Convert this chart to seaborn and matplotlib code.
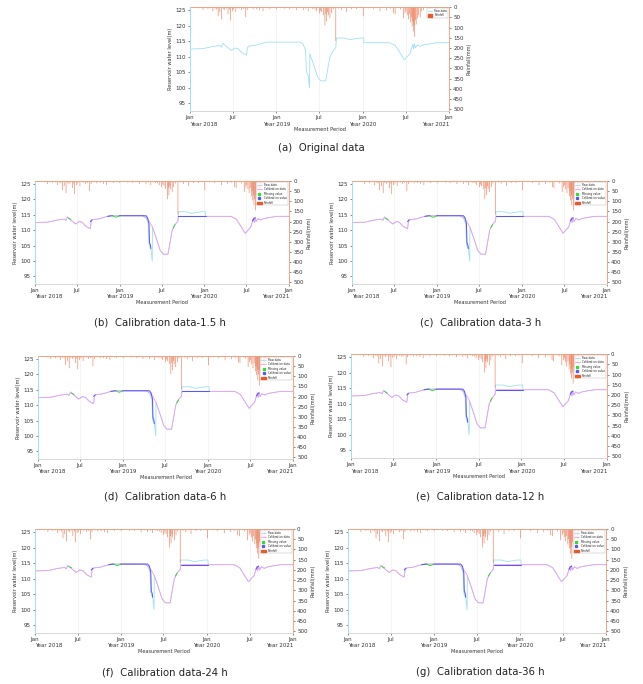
import numpy as np
import pandas as pd
import matplotlib as mpl
mpl.use("Agg")
import matplotlib.pyplot as plt
import matplotlib.transforms as mtrans
from matplotlib.lines import Line2D
from matplotlib.patches import Patch
import seaborn as sns


# ============================================================
# Data
# ============================================================
RAW_DATES = [
    "2018-01-01", "2018-02-25", "2018-04-08", "2018-05-07", "2018-05-14",
    "2018-05-21", "2018-06-01", "2018-06-25", "2018-07-10", "2018-07-23",
    "2018-08-10", "2018-08-28", "2018-09-01", "2018-09-10", "2018-10-01",
    "2018-11-01", "2018-11-21", "2019-04-11", "2019-04-25", "2019-05-05",
    "2019-05-09", "2019-05-16", "2019-05-22", "2019-05-23", "2019-06-10",
    "2019-06-25", "2019-07-09", "2019-07-29", "2019-08-16", "2019-08-30",
    "2019-09-10", "2019-09-12", "2019-10-15", "2019-11-09", "2019-12-21",
    "2020-01-06", "2020-01-07", "2020-04-26", "2020-05-20", "2020-06-26",
    "2020-07-20", "2020-07-28", "2020-08-01", "2020-08-04", "2020-08-08",
    "2020-08-12", "2020-08-20", "2020-09-01", "2020-09-15", "2020-10-15",
    "2020-11-10", "2021-01-01",
]
RAW_LEVEL = [
    112.5, 112.6, 113.3, 113.6, 113.2,
    114.3, 113.5, 112.0, 112.8, 112.6,
    111.2, 110.5, 113.0, 113.5, 113.6,
    114.3, 114.7, 114.7, 114.0, 112.0,
    105.0, 104.0, 100.0, 111.0, 107.0,
    103.5, 102.2, 102.2, 110.0, 112.0,
    113.0, 116.0, 116.0, 115.5, 116.0,
    116.0, 114.5, 114.5, 113.5, 109.0,
    111.0, 113.0, 114.0, 112.5, 114.2,
    112.8, 113.8, 113.3, 113.8, 114.2,
    114.5, 114.5,
]

CAL_DATES = [
    "2018-01-01", "2018-02-25", "2018-04-08", "2018-05-07", "2018-05-14",
    "2018-05-21", "2018-06-01", "2018-06-25", "2018-07-10", "2018-07-23",
    "2018-08-10", "2018-08-28", "2018-09-01", "2018-09-10", "2018-10-01",
    "2018-11-01", "2018-11-21", "2019-04-11", "2019-04-25", "2019-05-02",
    "2019-05-12", "2019-05-23", "2019-06-10", "2019-06-25", "2019-07-09",
    "2019-07-29", "2019-08-16", "2019-08-30", "2019-09-10", "2019-09-12",
    "2020-01-07", "2020-04-26", "2020-05-20", "2020-06-26", "2020-07-20",
    "2020-07-28", "2020-08-01", "2020-08-04", "2020-08-08", "2020-08-12",
    "2020-08-20", "2020-09-01", "2020-09-15", "2020-10-15", "2020-11-10",
    "2021-01-01",
]
CAL_LEVEL = [
    112.5, 112.6, 113.3, 113.6, 113.2,
    114.3, 113.5, 112.0, 112.8, 112.6,
    111.2, 110.5, 113.0, 113.5, 113.6,
    114.3, 114.7, 114.7, 114.0, 113.6,
    112.5, 111.0, 107.0, 103.5, 102.2,
    102.2, 110.0, 112.0, 113.0, 114.5,
    114.5, 114.5, 113.5, 109.0, 111.0,
    113.0, 114.0, 112.5, 114.2, 112.8,
    113.8, 113.3, 113.8, 114.2, 114.5,
    114.5,
]

# calibration value segments (blue)
CV_DATES = [
    "2018-08-28", "2018-09-04",
    "2018-11-10", "2018-12-01",
    "2018-12-31", "2019-04-25", "2019-05-02", "2019-05-08", "2019-05-10",
    "2019-05-14", "2019-05-16",
    "2019-09-12", "2020-01-07",
    "2020-07-28", "2020-08-03", "2020-08-08",
]
CV_LEVEL = [
    112.8, 113.4,
    114.5, 114.7,
    114.7, 114.7, 114.0, 112.0, 106.0,
    105.2, 104.0,
    114.5, 114.5,
    113.0, 113.8, 114.0,
]
CV_SEG = [0, 0, 1, 1, 2, 2, 2, 2, 2, 2, 2, 3, 3, 4, 4, 4]

# missing value segments (green)
MV_DATES = [
    "2018-05-25", "2018-06-05",
    "2018-12-01", "2018-12-15", "2018-12-31",
    "2019-08-20", "2019-08-28",
]
MV_LEVEL = [
    113.9, 113.5,
    114.7, 114.2, 114.6,
    110.8, 111.8,
]
MV_SEG = [0, 0, 1, 1, 1, 2, 2]

RAIN_DATES = [
    "2018-01-12", "2018-01-20", "2018-02-10", "2018-02-25", "2018-03-05",
    "2018-03-18", "2018-03-30", "2018-04-08", "2018-04-17", "2018-04-23",
    "2018-04-30", "2018-05-07", "2018-05-15", "2018-05-22", "2018-05-28",
    "2018-06-04", "2018-06-11", "2018-06-17", "2018-06-21", "2018-06-29",
    "2018-07-05", "2018-07-14", "2018-07-20", "2018-07-28", "2018-08-07",
    "2018-08-15", "2018-08-25", "2018-08-31", "2018-09-12", "2018-09-25",
    "2018-10-09", "2018-10-23", "2018-11-06", "2018-11-15", "2018-11-25",
    "2018-12-05", "2018-12-20", "2019-01-02", "2019-01-20", "2019-02-06",
    "2019-02-27", "2019-03-12", "2019-03-28", "2019-04-10", "2019-04-25",
    "2019-05-06", "2019-05-16", "2019-05-28", "2019-06-05", "2019-06-14",
    "2019-06-21", "2019-07-02", "2019-07-07", "2019-07-12", "2019-07-19",
    "2019-07-26", "2019-07-30", "2019-08-02", "2019-08-06", "2019-08-09",
    "2019-08-16", "2019-08-23", "2019-08-30", "2019-09-10", "2019-09-22",
    "2019-10-04", "2019-10-15", "2019-10-26", "2019-11-16", "2019-12-07",
    "2019-12-24", "2020-01-04", "2020-01-25", "2020-02-16", "2020-03-01",
    "2020-03-15", "2020-04-12", "2020-04-28", "2020-05-11", "2020-05-18",
    "2020-06-01", "2020-06-10", "2020-06-22", "2020-06-29", "2020-07-03",
    "2020-07-08", "2020-07-13", "2020-07-18", "2020-07-23", "2020-07-26",
    "2020-07-29", "2020-08-01", "2020-08-03", "2020-08-06", "2020-08-09",
    "2020-08-12", "2020-08-15", "2020-08-20", "2020-08-26", "2020-09-01",
    "2020-09-07", "2020-09-15", "2020-10-13", "2020-11-10", "2020-11-25",
    "2020-12-05",
]
RAIN_MM = [
    4, 5, 6, 15, 5,
    10, 6, 20, 8, 12,
    45, 25, 60, 10, 15,
    8, 35, 12, 65, 20,
    12, 25, 6, 8, 15,
    10, 50, 15, 6, 12,
    10, 15, 20, 5, 6,
    10, 4, 10, 5, 8,
    10, 5, 15, 6, 15,
    8, 20, 6, 10, 12,
    20, 30, 18, 25, 40,
    90, 35, 70, 25, 40,
    55, 30, 12, 165, 8,
    15, 6, 25, 10, 10,
    5, 45, 6, 10, 5,
    20, 15, 8, 30, 35,
    6, 12, 55, 30, 20,
    40, 60, 35, 75, 50,
    95, 70, 120, 90, 145,
    65, 85, 55, 40, 50,
    20, 15, 10, 8, 4,
    5,
]

TICK_DATES = ["2018-01-01", "2018-07-01", "2019-01-01", "2019-07-01",
              "2020-01-01", "2020-07-01", "2021-01-01"]
TICK_LABELS = ["Jan", "Jul", "Jan", "Jul", "Jan", "Jul", "Jan"]
YEAR_DATES = ["2018-01-01", "2019-01-01", "2020-01-01", "2021-01-01"]
YEAR_LABELS = ["Year 2018", "Year 2019", "Year 2020", "Year 2021"]

CAPTIONS = [
    "(a)  Original data",
    "(b)  Calibration data-1.5 h",
    "(c)  Calibration data-3 h",
    "(d)  Calibration data-6 h",
    "(e)  Calibration data-12 h",
    "(f)  Calibration data-24 h",
    "(g)  Calibration data-36 h",
]


# ============================================================
# Style settings
# ============================================================
RAW_COLOR = "#9fe0f4"
CAL_COLOR = "#f29cf2"
MV_COLOR = "#33dd33"
CV_COLOR = "#5858f2"
RAIN_COLOR = "#e85a2c"
TEXT_COLOR = "#333333"

TICK_FS = 4.0
LABEL_FS = 3.6
LEGEND_FS = 2.0
CAPTION_FS = 7.3

# [left, bottom, width, height] in figure fraction + caption position
PANELS = [
    ([0.2955, 0.8377, 0.4028, 0.1520], (0.500, 0.7836), False),
    ([0.0544, 0.5848, 0.3950, 0.1506], (0.249, 0.5278), True),
    ([0.5474, 0.5848, 0.3966, 0.1506], (0.747, 0.5278), True),
    ([0.0591, 0.3289, 0.3966, 0.1506], (0.257, 0.2734), True),
    ([0.5459, 0.3304, 0.3980, 0.1520], (0.747, 0.2734), True),
    ([0.0544, 0.0746, 0.4012, 0.1520], (0.257, 0.0175), True),
    ([0.5412, 0.0746, 0.4012, 0.1520], (0.747, 0.0175), True),
]


# ============================================================
# Tables
# ============================================================
raw_df = pd.DataFrame({"date": pd.to_datetime(RAW_DATES), "level": RAW_LEVEL})
cal_df = pd.DataFrame({"date": pd.to_datetime(CAL_DATES), "level": CAL_LEVEL})
cv_df = pd.DataFrame({"date": pd.to_datetime(CV_DATES), "level": CV_LEVEL, "seg": CV_SEG})
mv_df = pd.DataFrame({"date": pd.to_datetime(MV_DATES), "level": MV_LEVEL, "seg": MV_SEG})
rain_df = pd.DataFrame({"date": pd.to_datetime(RAIN_DATES), "mm": RAIN_MM})


# ============================================================
# Plot
# ============================================================
sns.set_theme(style="white")
plt.rcParams["font.family"] = ["DejaVu Sans"]

fig = plt.figure(figsize=(6.43, 6.84), dpi=100)


def draw_panel(rect, calibrated):
    ax = fig.add_axes(rect)
    ax.grid(axis="x", color="#ececec", lw=0.4)
    ax.set_axisbelow(True)

    sns.lineplot(data=raw_df, x="date", y="level", ax=ax, color=RAW_COLOR,
                 lw=0.6, estimator=None, sort=False, legend=False)
    if calibrated:
        sns.lineplot(data=cal_df, x="date", y="level", ax=ax, color=CAL_COLOR,
                     lw=0.6, estimator=None, sort=False, legend=False)
        sns.lineplot(data=mv_df, x="date", y="level", units="seg", ax=ax,
                     color=MV_COLOR, lw=0.7, estimator=None, sort=False, legend=False)
        sns.lineplot(data=cv_df, x="date", y="level", units="seg", ax=ax,
                     color=CV_COLOR, lw=0.75, estimator=None, sort=False, legend=False)

    ax.set_xlim(pd.Timestamp("2018-01-01"), pd.Timestamp("2021-01-01"))
    ax.set_ylim(92.5, 126)
    ax.set_yticks([95, 100, 105, 110, 115, 120, 125])
    ax.set_xticks(pd.to_datetime(TICK_DATES))
    ax.set_xticklabels(TICK_LABELS)
    ax.tick_params(axis="both", labelsize=TICK_FS, colors=TEXT_COLOR,
                   length=1.5, width=0.4, pad=1.5, bottom=True, left=True)
    ax.set_xlabel("")
    ax.set_ylabel("Reservoir water level(m)", fontsize=LABEL_FS,
                  color=TEXT_COLOR, labelpad=2)

    trans = mtrans.blended_transform_factory(ax.transData, ax.transAxes)
    aligns = ["left", "center", "center", "right"]
    for d, lab, ha in zip(pd.to_datetime(YEAR_DATES), YEAR_LABELS, aligns):
        ax.text(d, -0.125, lab, transform=trans, ha=ha, va="center",
                fontsize=TICK_FS, color=TEXT_COLOR)
    ax.text(0.5, -0.175, "Measurement Period", transform=ax.transAxes,
            ha="center", va="center", fontsize=LABEL_FS, color=TEXT_COLOR)

    ax2 = ax.twinx()
    ax2.bar(rain_df["date"], rain_df["mm"], width=2.4, color=RAIN_COLOR,
            alpha=0.85, lw=0, snap=False)
    ax2.set_ylim(508, 0)
    ax2.set_yticks(np.arange(0, 501, 50))
    ax2.tick_params(axis="y", labelsize=TICK_FS, colors=TEXT_COLOR,
                    length=1.5, width=0.4, pad=1.5, right=True)
    ax2.set_ylabel("Rainfall(mm)", fontsize=LABEL_FS, color=TEXT_COLOR,
                   labelpad=2)
    ax2.grid(False)

    for a in (ax, ax2):
        a.spines["left"].set_color(RAW_COLOR)
        a.spines["right"].set_color("#f3a585")
        a.spines["top"].set_color("#f3a585")
        a.spines["bottom"].set_color("#d8d8d8")
        for s in a.spines.values():
            s.set_linewidth(0.6)

    handles = [Line2D([], [], color=RAW_COLOR, lw=0.6)]
    labels = ["Raw data"]
    if calibrated:
        handles += [Line2D([], [], color=CAL_COLOR, lw=0.6),
                    Line2D([], [], color=MV_COLOR, ls="", marker="s", ms=1.4),
                    Line2D([], [], color=CV_COLOR, ls="", marker="s", ms=1.4)]
        labels += ["Calibration data", "Missing value", "Calibration value"]
    handles.append(Patch(color=RAIN_COLOR))
    labels.append("Rainfall")
    leg = ax2.legend(handles, labels, loc="upper right", fontsize=LEGEND_FS,
                     frameon=True, handlelength=1.6, handleheight=0.8,
                     borderpad=0.3, labelspacing=0.15, borderaxespad=0.4,
                     fancybox=False)
    leg.get_frame().set_linewidth(0.3)
    leg.get_frame().set_edgecolor("#999999")
    return ax


for (rect, cap_xy, calibrated), caption in zip(PANELS, CAPTIONS):
    draw_panel(rect, calibrated)
    fig.text(cap_xy[0], cap_xy[1], caption, ha="center", va="center",
             fontsize=CAPTION_FS, color="#222222")

fig.savefig("out.png", dpi=100)
plt.close(fig)
